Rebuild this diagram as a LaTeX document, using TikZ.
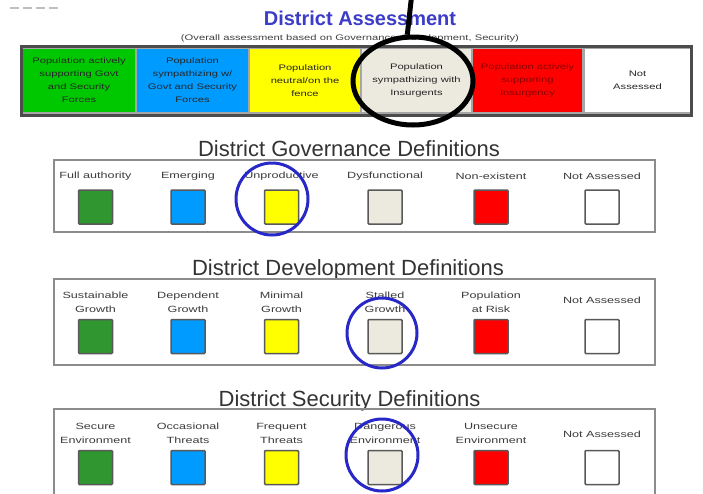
\documentclass[tikz,border=0pt]{standalone}
\usepackage{fontspec}
\setmainfont{Liberation Sans}
\usetikzlibrary{shapes.geometric}
\definecolor{tgreen}{RGB}{0,200,0}
\definecolor{tblue}{RGB}{0,155,255}
\definecolor{tyellow}{RGB}{255,255,0}
\definecolor{tbeige}{RGB}{236,234,222}
\definecolor{tred}{RGB}{255,0,0}
\definecolor{sgreen}{RGB}{48,150,48}
\definecolor{titleblue}{RGB}{60,60,200}
\definecolor{ringblue}{RGB}{40,40,200}
\definecolor{txt}{RGB}{60,60,60}
\begin{document}
\begin{tikzpicture}[x=1pt,y=-1pt,
  topbox/.style={draw=none,minimum width=#1,minimum height=63pt,inner sep=0pt,outer sep=0pt},
  toptext/.style={font=\fontsize{8}{13}\selectfont,xscale=1.4,align=center,text=black!85,inner sep=0pt},
  sectitle/.style={font=\fontsize{22}{22}\selectfont,text=black!80,anchor=base,inner sep=0pt},
  frame/.style={draw=black!45,line width=1.3pt},
  swatch/.style={draw=black!65,line width=1.5pt,rounded corners=1pt,minimum width=34pt,minimum height=34pt,inner sep=0pt},
  lbl/.style={font=\fontsize{9}{14}\selectfont,xscale=1.4,align=center,text=txt,inner sep=0pt},
  ring/.style={circle,draw=ringblue,line width=3pt,minimum size=#1,inner sep=0pt}
]
\useasboundingbox (0,0) rectangle (703,493);
\clip (0,0) rectangle (703,493);
\fill[white] (0,0) rectangle (703,493);
% faint marks top-left
\draw[black!25,line width=2.5pt,dash pattern=on 9pt off 4pt] (10,8) -- (59,8);

% header
\node[font=\bfseries\fontsize{20}{20}\selectfont,text=titleblue,anchor=base,inner sep=0pt] (title) at (360,25) {District Assessment};
\node[font=\fontsize{8}{8}\selectfont,xscale=1.4,anchor=base,text=black!75,inner sep=0pt] (subtitle) at (350,40) {(Overall assessment based on Governance, Development, Security)};

% top frame
\node[draw=black!70,fill=black!35,line width=3pt,minimum width=670pt,minimum height=69pt,inner sep=0pt] (topframe) at (356.5,80.5) {};
\node[topbox=112pt,fill=tgreen] (b1) at (79,80.5) {};
\node[topbox=111pt,fill=tblue] (b2) at (192.5,80.5) {};
\node[topbox=110pt,fill=tyellow] (b3) at (305,80.5) {};
\node[topbox=109pt,fill=tbeige] (b4) at (416.5,80.5) {};
\node[topbox=109pt,fill=tred] (b5) at (527.5,80.5) {};
\node[topbox=105pt,fill=white] (b6) at (637.5,80.5) {};
\node[toptext] (t1) at (b1) {Population actively\\supporting Govt\\and Security\\Forces};
\node[toptext] (t2) at (b2) {Population\\sympathizing w/\\Govt and Security\\Forces};
\node[toptext] (t3) at (b3) {Population\\neutral/on the\\fence};
\node[toptext] (t4) at (b4) {Population\\sympathizing with\\Insurgents};
\node[toptext,text=red!55!black] (t5) at (b5) {Population actively\\supporting\\Insurgency};
\node[toptext] (t6) at (b6) {Not\\Assessed};

% black ellipse and pointer
\node[ellipse,draw=black,line width=5pt,minimum width=120pt,minimum height=88pt,inner sep=0pt] (ell) at (413,81) {};
\coordinate (ptop) at (411.5,-3);
\draw[line width=5pt] (ptop) -- (ell.97);

% ---------- Governance ----------
\node[sectitle] (gtitle) at (349,156) {District Governance Definitions};
\node[frame,minimum width=601pt,minimum height=72pt,inner sep=0pt] (gframe) at (354.5,196) {};
\node[lbl] (gl1) at (95.5,176) {Full authority};
\node[lbl] (gl2) at (188,176) {Emerging};
\node[lbl] (gl3) at (281.5,176) {Unproductive};
\node[lbl] (gl4) at (385,176) {Dysfunctional};
\node[lbl] (gl5) at (491,176) {Non-existent};
\node[lbl] (gl6) at (602,176) {Not Assessed};
\node[swatch,fill=sgreen] (gs1) at (95.5,207) {};
\node[swatch,fill=tblue] (gs2) at (188,207) {};
\node[swatch,fill=tyellow] (gs3) at (281.5,207) {};
\node[swatch,fill=tbeige] (gs4) at (385,207) {};
\node[swatch,fill=tred] (gs5) at (491,207) {};
\node[swatch,fill=white] (gs6) at (602,207) {};
\node[ring=72pt] (gring) at (272,199) {};

% ---------- Development ----------
\node[sectitle] (dtitle) at (348,275) {District Development Definitions};
\node[frame,minimum width=601pt,minimum height=86pt,inner sep=0pt] (dframe) at (354.5,322) {};
\node[lbl] (dl1) at (95.5,302) {Sustainable\\Growth};
\node[lbl] (dl2) at (188,302) {Dependent\\Growth};
\node[lbl] (dl3) at (281.5,302) {Minimal\\Growth};
\node[lbl] (dl4) at (385,302) {Stalled\\Growth};
\node[lbl] (dl5) at (491,302) {Population\\at Risk};
\node[lbl] (dl6) at (602,300) {Not Assessed};
\node[swatch,fill=sgreen] (ds1) at (95.5,336.5) {};
\node[swatch,fill=tblue] (ds2) at (188,336.5) {};
\node[swatch,fill=tyellow] (ds3) at (281.5,336.5) {};
\node[swatch,fill=tbeige] (ds4) at (385,336.5) {};
\node[swatch,fill=tred] (ds5) at (491,336.5) {};
\node[swatch,fill=white] (ds6) at (602,336.5) {};
\node[ring=70pt] (dring) at (382,333) {};

% ---------- Security ----------
\node[sectitle] (stitle) at (349.5,406) {District Security Definitions};
\node[frame,minimum width=601pt,minimum height=100pt,inner sep=0pt] (sframe) at (354.5,459) {};
\node[lbl] (sl1) at (95.5,433) {Secure\\Environment};
\node[lbl] (sl2) at (188,433) {Occasional\\Threats};
\node[lbl] (sl3) at (281.5,433) {Frequent\\Threats};
\node[lbl] (sl4) at (385,433) {Dangerous\\Environment};
\node[lbl] (sl5) at (491,433) {Unsecure\\Environment};
\node[lbl] (sl6) at (602,434) {Not Assessed};
\node[swatch,fill=sgreen] (ss1) at (95.5,467.5) {};
\node[swatch,fill=tblue] (ss2) at (188,467.5) {};
\node[swatch,fill=tyellow] (ss3) at (281.5,467.5) {};
\node[swatch,fill=tbeige] (ss4) at (385,467.5) {};
\node[swatch,fill=tred] (ss5) at (491,467.5) {};
\node[swatch,fill=white] (ss6) at (602,467.5) {};
\node[ring=72pt] (sring) at (382,455) {};
\end{tikzpicture}
\end{document}
